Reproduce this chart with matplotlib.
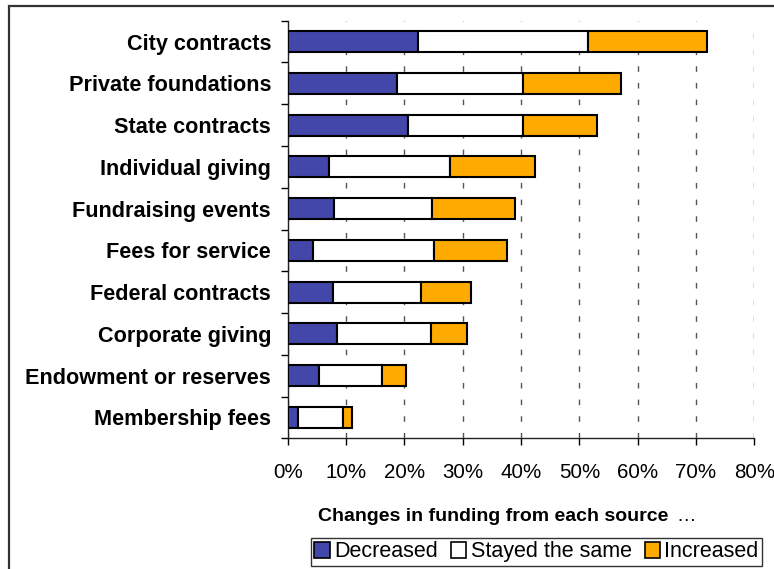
import matplotlib
matplotlib.use("Agg")
import matplotlib.pyplot as plt
import numpy as np
from matplotlib.patches import Rectangle
from matplotlib.ticker import FixedLocator, FuncFormatter

plt.rcParams["font.family"] = ["Liberation Sans", "DejaVu Sans"]

sources = [
    "City contracts",
    "Private foundations",
    "State contracts",
    "Individual giving",
    "Fundraising events",
    "Fees for service",
    "Federal contracts",
    "Corporate giving",
    "Endowment or reserves",
    "Membership fees",
]
decreased = [22.3, 18.7, 20.6, 7.0, 8.0, 4.4, 7.7, 8.5, 5.3, 1.8]
stayed_same = [29.2, 21.6, 19.7, 20.8, 16.7, 20.6, 15.1, 16.0, 10.8, 7.7]
increased = [20.4, 16.8, 12.8, 14.6, 14.3, 12.6, 8.6, 6.3, 4.2, 1.5]
series_names = ["Decreased", "Stayed the same", "Increased"]
x_ticks = [0, 10, 20, 30, 40, 50, 60, 70, 80]

colors = ["#4347A9", "#FFFFFF", "#FFAA00"]

fig = plt.figure(figsize=(7.74, 5.69), dpi=100)
ax = fig.add_axes([0.3717, 0.2297, 0.6029, 0.7339])

y = np.arange(len(sources))
left = np.zeros(len(sources))
for values, color, name in zip([decreased, stayed_same, increased], colors, series_names):
    ax.barh(y, values, left=left, height=0.5, color=color, edgecolor="black",
            linewidth=1.5, label=name, zorder=3)
    left += np.array(values)

ax.set_xlim(0, 80)
ax.set_ylim(len(sources) - 0.5, -0.5)

ax.set_xticks(x_ticks)
ax.xaxis.set_major_formatter(FuncFormatter(lambda v, _: f"{v:.0f}%"))
ax.tick_params(axis="x", direction="out", length=5, width=1, pad=12.5, labelsize=14.8)

ax.set_yticks(y)
ax.set_yticklabels(sources, fontweight="bold", fontsize=15.6)
ax.tick_params(axis="y", which="major", length=0, pad=12)
ax.yaxis.set_minor_locator(FixedLocator(np.arange(len(sources) + 1) - 0.5))
ax.tick_params(axis="y", which="minor", direction="out", length=5, width=1)

ax.grid(axis="x", color="#555555", linestyle=(0, (4, 8)), linewidth=1, zorder=0)
for side in ["top", "right"]:
    ax.spines[side].set_visible(False)
for side in ["left", "bottom"]:
    ax.spines[side].set_linewidth(1)
    ax.spines[side].set_color("#222222")

fig.text(0.411, 0.093, "Changes in funding from each source", fontsize=14,
         fontweight="bold", va="center", ha="left")
fig.text(0.874, 0.093, "\u2026", fontsize=14, va="center", ha="left")

leg = fig.legend(loc="center", bbox_to_anchor=(0.6932, 0.0299), ncol=3,
                 fontsize=15.5, frameon=True, fancybox=False, handlelength=0.72,
                 handleheight=0.72, handletextpad=0.2, columnspacing=0.6,
                 borderpad=0.15, borderaxespad=0)
leg.get_frame().set_edgecolor("black")
leg.get_frame().set_linewidth(1)
for patch in leg.get_patches():
    patch.set_linewidth(1.2)

# outer chart border
fig.patches.append(Rectangle((0.0116, -0.1), 1.2, 0.9886 + 0.1, transform=fig.transFigure,
                             fill=False, edgecolor="#333333", linewidth=1.6))

fig.savefig("out.png", dpi=100)
